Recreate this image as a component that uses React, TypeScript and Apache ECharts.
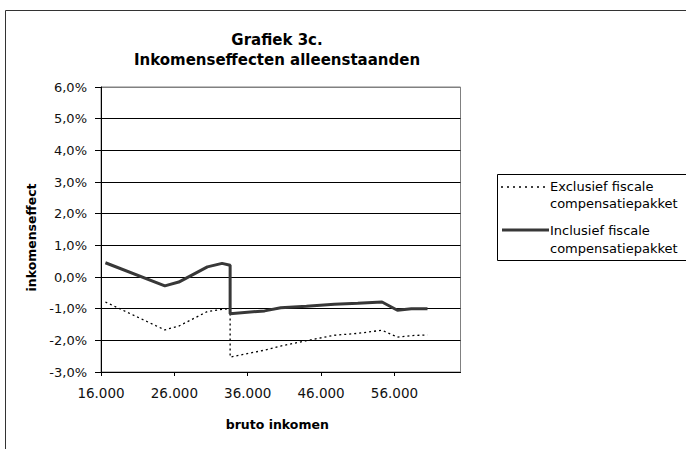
import React, { useEffect, useRef } from "react";
import * as echarts from "echarts";

const titleLines = ["Grafiek 3c.", "Inkomenseffecten alleenstaanden"];
const xAxisName = "bruto inkomen";
const yAxisName = "inkomenseffect";
const seriesNames = ["Exclusief fiscale\ncompensatiepakket", "Inclusief fiscale\ncompensatiepakket"];

// bruto inkomen (x values, shared by both series)
const brutoInkomen = [16600, 24700, 26600, 30500, 32500, 33600, 33600, 38300, 40500, 44000, 47800, 51000, 54300, 56400, 58300, 60500];
// inkomenseffect in %
const exclusief = [-0.79, -1.67, -1.55, -1.09, -1.02, -1.0, -2.53, -2.31, -2.18, -2.01, -1.84, -1.78, -1.68, -1.9, -1.85, -1.83];
const inclusief = [0.45, -0.28, -0.16, 0.32, 0.43, 0.37, -1.16, -1.07, -0.97, -0.92, -0.86, -0.83, -0.79, -1.05, -1.0, -1.0];

const xMin = 16000;
const xMax = 65000;
const xInterval = 10000;
const yMin = -3;
const yMax = 6;
const yInterval = 1;

const FONT = "DejaVu Sans";

export default function App() {
  const ref = useRef<HTMLDivElement>(null);
  useEffect(() => {
    if (!ref.current) return;
    const chart = echarts.init(ref.current, undefined, { renderer: "svg" });
    const pair = (ys: number[]) => brutoInkomen.map((x, i) => [x, ys[i]]);
    const splitColors: string[] = [];
    for (let v = yMin; v <= yMax; v += yInterval) splitColors.push(v === yMax ? "#808080" : "#000000");

    chart.setOption({
      animation: false,
      backgroundColor: "#ffffff",
      title: {
        text: titleLines.join("\n"),
        left: 277,
        top: 30,
        padding: 0,
        textAlign: "center",
        textStyle: { fontFamily: FONT, fontSize: 15, fontWeight: "bold", color: "#000", lineHeight: 20 },
      },
      grid: {
        left: 101,
        top: 87,
        width: 359.5,
        height: 285,
        show: true,
        borderColor: "#808080",
        borderWidth: 1,
        backgroundColor: "transparent",
      },
      xAxis: {
        type: "value",
        min: xMin,
        max: xMax,
        interval: xInterval,
        name: xAxisName,
        nameLocation: "middle",
        nameGap: 46,
        nameTextStyle: { fontFamily: FONT, fontSize: 12.5, fontWeight: "bold", color: "#000", padding: [0, 7, 0, 0] },
        axisLine: { onZero: false, lineStyle: { color: "#000", width: 1 } },
        axisTick: { show: true, length: 4, lineStyle: { color: "#000" } },
        axisLabel: {
          showMaxLabel: false,
          margin: 14,
          fontFamily: FONT,
          fontSize: 13.5,
          color: "#111",
          formatter: (v: number) => String(Math.round(v)).replace(/\B(?=(\d{3})+(?!\d))/g, "."),
        },
        splitLine: { show: false },
      },
      yAxis: {
        type: "value",
        min: yMin,
        max: yMax,
        interval: yInterval,
        name: yAxisName,
        nameLocation: "middle",
        nameRotate: 90,
        nameGap: 60,
        nameTextStyle: { fontFamily: FONT, fontSize: 12.5, fontWeight: "bold", color: "#000", padding: [0, 16, 0, 0] },
        axisLine: { show: true, onZero: false, lineStyle: { color: "#000", width: 1 } },
        axisTick: { show: true, length: 6, lineStyle: { color: "#000" } },
        axisLabel: {
          margin: 14,
          fontFamily: FONT,
          fontSize: 13,
          color: "#111",
          formatter: (v: number) => v.toFixed(1).replace(".", ",") + "%",
        },
        splitLine: { show: true, lineStyle: { color: splitColors, width: 1 } },
      },
      series: [
        {
          name: seriesNames[0],
          type: "line",
          data: pair(exclusief),
          showSymbol: false,
          symbol: "none",
          lineStyle: { color: "#000", width: 1.3, type: [2, 3] },
          z: 3,
        },
        {
          name: seriesNames[1],
          type: "line",
          data: pair(inclusief),
          showSymbol: false,
          symbol: "none",
          lineStyle: { color: "#383838", width: 3 },
          z: 4,
        },
      ],
      graphic: [
        {
          type: "rect",
          shape: { x: 5.5, y: 10.5, width: 720, height: 480 },
          style: { fill: "none", stroke: "#333", lineWidth: 1 },
          z: 1,
          silent: true,
        },
        {
          type: "group",
          z: 10,
          children: [
            {
              type: "rect",
              shape: { x: 497.5, y: 174.5, width: 220, height: 86 },
              style: { fill: "#fff", stroke: "#000", lineWidth: 1 },
            },
            {
              type: "line",
              shape: { x1: 501, y1: 187, x2: 547, y2: 187 },
              style: { stroke: "#000", lineWidth: 1.3, lineDash: [2, 4] },
            },
            {
              type: "text",
              x: 550,
              y: 195,
              style: {
                text: seriesNames[0],
                fontFamily: FONT,
                fontSize: 13,
                fill: "#000",
                lineHeight: 17,
                verticalAlign: "middle",
                align: "left",
              },
            },
            {
              type: "line",
              shape: { x1: 502, y1: 230, x2: 549, y2: 230 },
              style: { stroke: "#383838", lineWidth: 3 },
            },
            {
              type: "text",
              x: 550,
              y: 239,
              style: {
                text: seriesNames[1],
                fontFamily: FONT,
                fontSize: 13,
                fill: "#000",
                lineHeight: 18,
                verticalAlign: "middle",
                align: "left",
              },
            },
          ],
        },
      ],
    });
    return () => chart.dispose();
  }, []);
  return <div ref={ref} style={{ position: "absolute", left: 0, top: 0, width: 686, height: 449 }} />;
}
